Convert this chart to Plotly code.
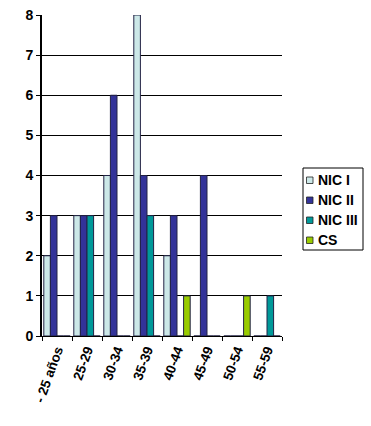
import plotly.graph_objects as go

categories = ["- 25 años", "25-29", "30-34", "35-39", "40-44", "45-49", "50-54", "55-59"]
nic1 = [2, 3, 4, 8, 2, 0, 0, 0]
nic2 = [3, 3, 6, 4, 3, 4, 0, 0]
nic3 = [0, 3, 0, 3, 0, 0, 0, 1]
cs = [0, 0, 0, 0, 1, 0, 1, 0]
series_names = ["NIC I", "NIC II", "NIC III", "CS"]
series_values = [nic1, nic2, nic3, cs]
series_colors = ["#CCE8E8", "#333399", "#009999", "#99CC00"]

W, H = 371, 426
L, R, T, B = 42, 89, 15, 90
PW, PH = W - L - R, H - T - B

def px(x):
    return (x - L) / PW

def py(y):
    return (H - B - y) / PH

fig = go.Figure()
for name, vals, col in zip(series_names, series_values, series_colors):
    fig.add_trace(go.Bar(x=categories, y=vals, name=name,
                         marker=dict(color=col, line=dict(color="#222244", width=1))))

font = dict(family="Liberation Sans, Arial", size=13.5, color="black", weight="bold")

shapes = [dict(type="rect", xref="paper", yref="paper",
               x0=px(303), x1=px(363), y0=py(250), y1=py(168),
               line=dict(color="black", width=1), fillcolor="white", layer="above")]
annotations = []
for i, (name, col) in enumerate(zip(series_names, series_colors)):
    cy = 180 + 20 * i
    shapes.append(dict(type="rect", xref="paper", yref="paper",
                       x0=px(306.5), x1=px(313), y0=py(cy + 3.5), y1=py(cy - 3),
                       line=dict(color="#222222", width=0.8), fillcolor=col, layer="above"))
    annotations.append(dict(xref="paper", yref="paper", x=px(316), y=py(cy),
                            xanchor="left", yanchor="middle", text=name, showarrow=False,
                            font=dict(family="Liberation Sans, Arial", size=14,
                                      color="black", weight="bold")))

fig.update_layout(
    width=W, height=H,
    margin=dict(l=L, r=R, t=T, b=B, autoexpand=False),
    paper_bgcolor="white", plot_bgcolor="white",
    barmode="group", bargap=0.12, bargroupgap=0,
    font=font,
    showlegend=False,
    shapes=shapes, annotations=annotations,
    xaxis=dict(type="category", tickangle=-70, ticks="outside", tickson="boundaries",
               ticklen=4, tickcolor="black", showline=True, linecolor="black", linewidth=1,
               showgrid=False, tickfont=font),
    yaxis=dict(range=[0, 8], dtick=1, ticks="outside", ticklen=4, tickcolor="black",
               showline=True, linecolor="black", linewidth=2, showgrid=True,
               gridcolor="black", gridwidth=1, zeroline=False,
               tickfont=dict(family="Liberation Sans, Arial", size=14, color="black", weight="bold")),
)
fig.write_html("out.html")
